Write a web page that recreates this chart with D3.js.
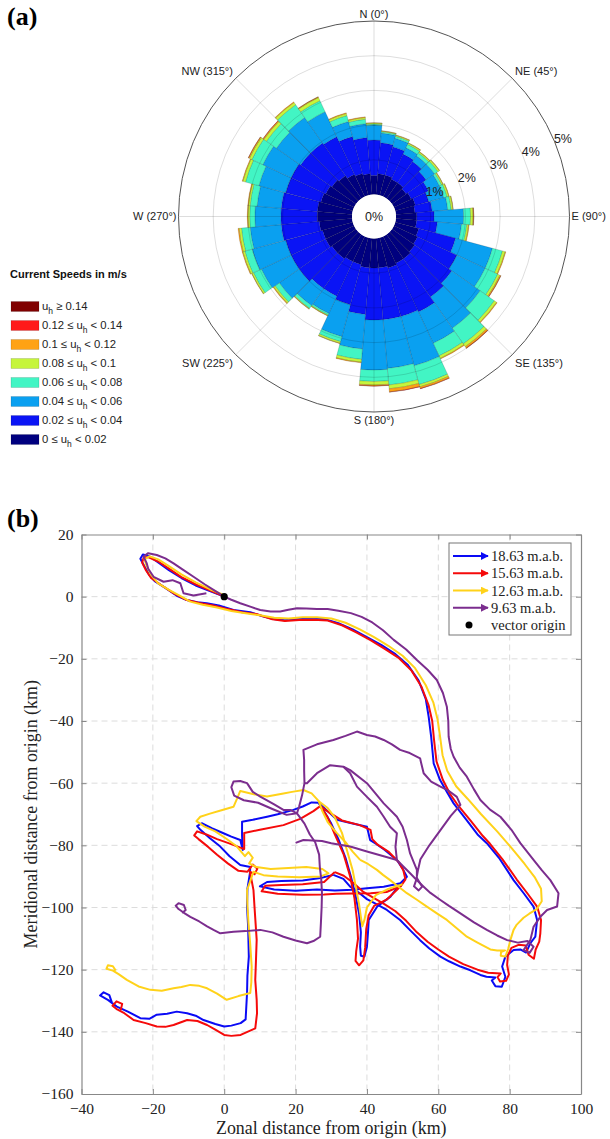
<!DOCTYPE html>
<html>
<head>
<meta charset="utf-8">
<script src="https://cdn.jsdelivr.net/npm/d3@7"></script>
<style>
  body { margin: 0; background: #fff; }
  svg { display: block; }
  .sans { font-family: "Liberation Sans", Arial, Helvetica, sans-serif; }
  .serif { font-family: "Liberation Serif", "Times New Roman", serif; }
</style>
</head>
<body>
<div id="chart"></div>
<script>
// ---------- panel (a): current rose ----------
const directions = d3.range(0, 360, 10);   // bin centres, degrees from N

// frequency (%) per direction bin, one array per speed class (low -> high)
const spd0 = [0.55,0.6,0.6,0.55,0.55,0.5,0.55,0.6,0.55,0.6,0.6,0.7,0.75,0.8,0.85,0.85,0.9,0.85,0.85,0.85,0.8,0.8,0.85,0.85,0.9,0.9,0.95,1.0,1.0,0.95,0.9,0.85,0.8,0.7,0.65,0.6];
const spd1 = [1.02,0.9,0.85,0.8,0.75,0.7,0.55,0.4,0.5,0.5,0.6,1.1,1.25,1.3,1.35,1.55,1.45,1.5,1.5,1.35,1.2,1.1,1.05,1.15,1.1,1.1,1.1,1.05,1.05,1.05,1.1,1.1,1.15,1.2,1.1,1.05];
const spd2 = [0.43,0.28,0.25,0.2,0.2,0.3,0.35,0.45,0.45,0.85,0.7,1.1,0.9,1.0,1.1,1.0,1.47,1.41,1.44,1.0,0.95,0.55,0.6,0.7,0.95,1.0,0.9,0.75,0.7,0.8,0.9,0.85,0.9,0.8,0.45,0.4];
const spd3 = [0.03,0.04,0.06,0.11,0.1,0.12,0.07,0.1,0.1,0.2,0.15,0.3,0.4,0.5,0.55,0.4,0.56,0.48,0.33,0.3,0.15,0.05,0.1,0.15,0.25,0.22,0.25,0.15,0.2,0.4,0.35,0.35,0.45,0.35,0.18,0.13];
const spd4 = [0.03,0.02,0.03,0.04,0.04,0.05,0.04,0.05,0.05,0.07,0.05,0.08,0.07,0.08,0.1,0.08,0.07,0.11,0.1,0.08,0.05,0.02,0.02,0.05,0.05,0.06,0.07,0.05,0.05,0.08,0.08,0.09,0.08,0.1,0.06,0.05];
const spd5 = [0.01,0.01,0.01,0.01,0.01,0.01,0.01,0.01,0.01,0.02,0.02,0.02,0.03,0.02,0.05,0.02,0.05,0.09,0.03,0.02,0.01,0.01,0.01,0.02,0.01,0.02,0.03,0.02,0.02,0.02,0.03,0.03,0.02,0.02,0.02,0.02];
const spd6 = [0,0,0,0,0,0,0,0,0,0.005,0,0,0.005,0,0.01,0,0.01,0.01,0.005,0,0,0,0,0,0,0,0,0,0,0,0.005,0.005,0,0.005,0,0];
const spd7 = [0,0,0,0,0,0,0,0,0,0,0,0,0,0,0,0,0,0,0,0,0,0,0,0,0,0,0,0,0,0,0,0,0,0,0,0];
const speedClasses = [spd0, spd1, spd2, spd3, spd4, spd5, spd6, spd7];
const speedColors = ["#00007f", "#0a14f5", "#0aa0f0", "#42f5c4", "#c6f53a", "#ffa214", "#ff1a1a", "#800000"];
const speedLabels = [
  ["0 ≤ u", " < 0.02"], ["0.02 ≤ u", " < 0.04"], ["0.04 ≤ u", " < 0.06"], ["0.06 ≤ u", " < 0.08"],
  ["0.08 ≤ u", " < 0.1"], ["0.1 ≤ u", " < 0.12"], ["0.12 ≤ u", " < 0.14"], ["u", " ≥ 0.14"]
];
const ringTicks = [1, 2, 3, 4, 5];
const compassLabels = [
  [0, "N (0°)"], [45, "NE (45°)"], [90, "E (90°)"], [135, "SE (135°)"],
  [180, "S (180°)"], [225, "SW (225°)"], [270, "W (270°)"], [315, "NW (315°)"]
];

// ---------- panel (b): progressive vector diagram (km) ----------
const xTicks = d3.range(-40, 101, 20);
const yTicks = d3.range(-160, 21, 20);
const seriesNames = ["18.63 m.a.b.", "15.63 m.a.b.", "12.63 m.a.b.", "9.63 m.a.b."];
const seriesColors = ["#0a0af5", "#f50a0a", "#ffd21a", "#7b2d8e"];

const blue = [
  [[0,0],[-4,1.8],[-8,3.6],[-12,6],[-15.5,8.5],[-18.5,11],[-21,13],[-22.8,13.6],[-23.5,12.2],[-22.5,10],[-21,7],[-19.5,5],[-16.5,2.8],[-13.3,0.3],[-10.5,-1.1],[-7.5,-1.8],[-4.9,-2.1],[-1.5,-2.8],[2.6,-4.3],[7.3,-5],[10.5,-6.2],[13.8,-7.2],[17,-7.6],[20,-7.3],[24,-7],[28,-7.2],[32,-8.5],[36,-10.5],[40,-13],[44,-15.5],[48,-18.5],[51.5,-22],[54.5,-27],[56.5,-33],[57.3,-38.6],[58,-45],[58.7,-53.6],[60.5,-59],[62.5,-63],[64.3,-66.5],[68,-72],[71,-76.5],[73.6,-79.3],[77,-84],[81.1,-91.2],[84,-95.5],[86.7,-99.7],[87.7,-104],[87.2,-109.4],[85.8,-111.5],[84.6,-114.5],[83,-113.5],[81.1,-113.7],[78.8,-115.8],[77.9,-119],[78.8,-122.3],[77.8,-125.5],[76,-125.3],[75,-123.5],[76,-122.5],[73.5,-122.3],[71.8,-121.7],[69,-120.2],[66.2,-119],[63,-117.3],[60.6,-115.8],[57.5,-113.2],[54.9,-110.5],[52,-107.2],[49.3,-104],[45.6,-100.8],[42,-98.5],[40,-97.3],[37.5,-95],[35.3,-93.3],[33.4,-90.8],[30.6,-89.5]],
  [[30.6,-89.5],[27,-90.5],[22,-91.3],[16,-91.5],[12,-91.8],[10,-93.2],[14,-94.2],[20,-94.6],[26,-94.2],[31,-94.5],[36,-94.3],[40,-93.8],[44.7,-93.3],[49.4,-92.2],[51.2,-90.1],[50,-87.5],[48.4,-84.7],[45,-81.5],[42.5,-79.5],[40.9,-78.3],[40,-74],[36,-73],[31.6,-71.8],[29,-69],[26.4,-66.3],[24.5,-66.2],[22,-67.5],[19.4,-68.6],[15,-70],[12,-70.8],[8,-71.8],[5,-72.4],[5,-77],[5.2,-81.5],[4.5,-78.3],[2,-77.2],[-0.2,-76.1],[-3.5,-74.5],[-6.3,-72.9],[-7.6,-73.8],[-6.6,-75.1],[-4,-77.7],[-1.1,-80.4],[1.5,-83.5],[4.5,-86.3],[7.3,-87],[7.2,-89],[6.5,-94],[6.4,-99.8],[6.7,-106],[6.9,-115.8],[6.5,-122],[6.4,-127.5],[6,-136],[4.6,-137.2],[2,-138],[0,-138.3],[-2.5,-137.5],[-5.8,-136.2],[-8,-134.8],[-10.4,-134],[-13.3,-133.5],[-16,-134.2],[-18.9,-134.5],[-21,-135.8],[-23.5,-135.6],[-27,-133.5],[-30.1,-131.9],[-32.5,-129.8],[-34.8,-128.3],[-33.8,-127.3],[-32.2,-128.2],[-31.5,-130.5]],
  [[26.4,-66.3],[28,-69],[30,-73],[32,-78],[34,-84],[35.5,-90],[36.8,-96],[37.8,-102],[38.3,-108],[38.1,-112.6],[38.3,-115.5],[39.3,-115.8],[40,-112.6],[40.3,-108],[40.5,-104],[42.9,-99.7],[46.6,-96.5],[49.4,-92.2]]
];
const red = [
  [[0,0],[-4,2],[-8,4],[-12,6.3],[-15.5,9],[-18.5,11.3],[-21,12.6],[-22.5,12.8],[-23,11],[-22,8.6],[-20.5,6],[-17.5,3.6],[-14,1],[-10.5,-1.1],[-7,-2],[-3,-2.8],[1,-4],[5,-5],[9,-5.6],[13.5,-7.3],[17,-7.8],[21,-7.5],[25,-7.4],[29,-7.7],[33,-9.2],[37,-11.5],[41,-14],[45,-16.8],[49,-19.8],[52.5,-23.8],[55.3,-29],[57.3,-35],[58.3,-40],[58.8,-46],[59.5,-53],[61.3,-59],[63.3,-63.5],[65.3,-66.8],[69,-72],[72.5,-77],[74.5,-79.5],[78,-84.5],[82,-91],[85,-95.5],[87.7,-99.7],[88.8,-104],[88.6,-108.3],[88.3,-111],[87.3,-113.5],[86.8,-116.5],[85.3,-115.2],[84.5,-112.2],[82.5,-112],[80.5,-113],[79.5,-115.5],[79.3,-118.5],[79.8,-121.5],[79,-123.6],[77.3,-123.8],[76.6,-122.4],[77.5,-121.2],[74,-121],[71,-120],[67,-118.2],[63,-115.8],[60,-113.5],[57,-111],[54,-108],[51,-104.3],[48,-101.2],[45,-99],[42,-97],[39,-95],[36.3,-92.2],[33.5,-89.8],[31,-88.6]],
  [[31,-88.6],[28,-91.8],[22,-92.5],[16,-92.8],[11.5,-93],[10.5,-94.8],[15,-95.6],[22,-95.9],[28,-95.8],[31.5,-95.6],[36,-95.5],[41,-95.4],[45.5,-95],[49.6,-93],[50.8,-91],[50.2,-88],[49,-85.5],[46,-82],[43,-79.8],[41.5,-78],[41,-75],[38,-73.5],[33,-72],[29.5,-69.5],[26.9,-67.4],[25,-69],[21.3,-71.5],[16.6,-73.5],[10,-75],[5.6,-76],[5.6,-81.2],[4,-80.5],[1,-79.2],[-2,-78],[-5,-76.5],[-7.6,-75.5],[-8.4,-76.8],[-7.2,-78],[-4.5,-80.5],[-2,-83],[1,-85.8],[4,-88.2],[6.5,-88.5],[8,-86.2],[9.3,-87.5],[8.5,-89.3],[7.2,-88.5],[7.8,-92],[8.2,-94.4],[8.5,-100],[9.1,-110.4],[8.9,-117],[8.7,-123.3],[9.1,-129.7],[9.2,-134],[8.7,-138.9],[6.5,-140],[4.6,-141],[2,-141.3],[0,-141],[-2.5,-139.3],[-4.8,-137.8],[-7.5,-136.5],[-10.4,-136.2],[-14.2,-137.8],[-16.5,-138.4],[-18.9,-138.3],[-22,-137.2],[-25.4,-136.2],[-28,-134],[-30,-132.8],[-31.3,-131.6],[-30.2,-130.2],[-28.6,-131],[-29,-133]],
  [[26.9,-67.4],[29,-71],[31,-76.5],[33.5,-83],[35.3,-90],[36.5,-97],[37.2,-104],[37.5,-110],[37,-114],[36.8,-117.2],[37.8,-118.6],[39,-117],[39.5,-113],[39.8,-107],[40.5,-102.5],[42,-99.5],[45.5,-97.5],[49.6,-93]]
];
const yellow = [
  [[0,0.5],[-4,2.4],[-8,4.6],[-12,7.2],[-15.5,9.8],[-18.5,12],[-21,13],[-22.3,12],[-21.8,10],[-20.5,7],[-18.5,4.3],[-15.5,2.2],[-12.5,0.3],[-9.5,-1.6],[-6,-2.6],[-2,-3.5],[2,-4.6],[6,-5.3],[10,-6],[14,-6.8],[18,-7],[22,-6.6],[26,-6.6],[30,-7],[34,-8.4],[38,-10.5],[42,-13],[46,-15.8],[50,-19],[53.5,-23],[56.5,-28.5],[58.6,-34],[59.8,-39.5],[60.5,-45],[61.2,-51],[62.5,-56],[65,-61],[68.2,-65],[72,-70],[76.5,-75.5],[80.5,-80.8],[84.2,-86],[87,-90.2],[88.8,-94],[89,-98],[87.6,-100.5],[85.5,-102],[83.9,-103.3],[82,-105.5],[81.1,-107.2],[80.2,-110.5],[79.6,-113.3],[78.8,-115.8],[77.5,-115.5],[77.6,-114.3],[78.7,-113.8],[76.5,-113.8],[74.6,-113.5],[71,-111.3],[68,-109.4],[65,-106.5],[62.4,-104],[59.5,-101.8],[56.8,-99.7],[54,-97.5],[51.2,-95.4],[48.5,-93],[46.5,-91.2],[44.5,-89.5],[42.8,-87.9],[40.3,-86],[38.1,-84.7]],
  [[38.1,-84.7],[36,-82],[34,-79],[31.5,-76],[29,-72.5],[27.5,-69],[26.5,-65.8],[24.5,-63.3],[22.2,-62.2],[19,-62.8],[16.6,-63.3],[12,-64.3],[8,-63.5],[4.5,-62.5],[3.6,-65],[2.6,-67.6],[-1,-68.8],[-4,-69.8],[-6.7,-70.8],[-7.8,-72.2],[-5.5,-74],[-2.5,-75.5],[0.5,-77.8],[3.5,-80.3],[5.8,-83.5],[6.8,-82.2],[8,-84],[7,-85.8],[9,-87],[13,-87.6],[18,-87.3],[23,-87],[27.5,-87.6],[29.2,-89],[27,-90],[21,-90.3],[15,-90],[11,-89.6],[8.2,-88.5],[6.4,-94.4],[6.5,-99],[6.8,-105],[7.3,-112],[7.7,-119],[7.6,-124],[7.3,-127.5],[4,-128.5],[0.7,-129.7],[-2,-127.7],[-4.8,-126],[-7,-125.2],[-9.5,-124.9],[-12,-125.6],[-14.2,-126],[-17.5,-126.8],[-20.7,-126.5],[-24,-125.4],[-27.3,-123.3],[-29.5,-121.5],[-31.2,-120.3],[-33,-119.7],[-32.6,-118.6],[-31.2,-118.9],[-30.4,-120.3]],
  [[26.5,-65.8],[29,-68],[31,-71],[33,-76],[34.5,-82],[36,-88],[37,-94],[37.8,-99],[38.3,-103],[38.7,-106],[39.3,-104],[40,-100],[42.5,-96],[46,-94],[50,-92.5]]
];
const purple = [
  [[-5,1.1],[-8.6,0.4],[-11.4,1.1],[-12.3,4.3],[-14.5,5.3],[-17,4.8],[-19.8,6.4],[-21.3,9],[-21.7,10.7],[-22.6,12.9],[-21.3,14],[-18.9,13.4],[-16.5,12.3],[-14.2,10.7],[-11.5,8.6],[-8.6,6.4],[-5.5,4],[-3,2.2],[0,0],[2,-1],[4.5,-2.1],[7.5,-3.3],[10.1,-4.3],[13,-4.8],[15.7,-4.8],[18,-4.2],[20.4,-3.7],[23,-3.8],[26,-4],[29,-4],[32,-4.5],[35.5,-5.3],[38.5,-6.5],[41.5,-8.3],[44.5,-10.8],[47.5,-13.9],[51,-17],[54,-20.4],[57,-23.5],[59.6,-26.8],[61.3,-31],[62.4,-35.4],[62.8,-40],[62.9,-45],[63.5,-49],[64.3,-51.5],[66,-55],[68,-57.9],[70,-62],[71.8,-65.4],[74.5,-68.5],[77.4,-70.8],[80.5,-75],[83,-79.3],[86.7,-84.7],[89,-88],[91.4,-91.2],[93.7,-95.4],[93.3,-99.7],[90.5,-100.8],[88.6,-103],[86.7,-106.2],[85.8,-110.5],[84.8,-112.2],[83.9,-113.7],[85.6,-114.6],[86.7,-112.6],[85,-110.8],[82.3,-111.3],[79.3,-110.5],[76.5,-109],[73.6,-107.2],[70,-104.8],[66.2,-101.9],[63,-99.5],[60.6,-97.6],[57.8,-95.3],[55.9,-93.3],[53.8,-91],[52.1,-89],[50.2,-86.8],[48.4,-84.7],[44.7,-83.5],[40,-82],[35.3,-80.4],[30,-79.3],[27.4,-78.6],[22.2,-78.3],[20,-79.2]],
  [[48.4,-84.7],[48,-80.5],[48.4,-76.1],[46.5,-74],[44.7,-70.8],[42.8,-67.6],[40,-64.4],[37.2,-61.1],[35.3,-56.8],[33.4,-54.7],[29.7,-54.2],[26,-56.8],[23.2,-60],[22.5,-60]],
  [[33.4,-54.7],[35.3,-55.8],[40,-60],[44.7,-66.5],[48.4,-70.8],[50,-74],[51.2,-78.3],[52.1,-82.6],[54,-87.9],[54,-90.5],[55.5,-93.3],[54.5,-94.5],[53.2,-93.2],[53.8,-91.2],[54.3,-88],[55,-84.5],[57.5,-80],[60.6,-75.1],[63.5,-70.5],[66.2,-67],[65.2,-64.4],[63,-62.5],[60.6,-61.1],[58,-59.5],[55.9,-56.8],[55.2,-53.5],[54.9,-52],[52,-50.3],[49.3,-49.3],[47,-47.5],[44.7,-46.1],[42.3,-45],[40,-44.5],[37.2,-43.4],[34,-44.8],[30.6,-46.1],[26,-47.5],[22.2,-49.3],[22.4,-52.5],[22.4,-56],[22.5,-60],[21.8,-64],[21,-67.5],[20.4,-69.7],[18.5,-68.6],[16.6,-68.6],[14,-66.8],[12,-65.5],[10.1,-64.3],[8,-62.8],[6.4,-60],[4.5,-59.3],[2.6,-59.5],[2,-61.3],[2.8,-64],[5.5,-65.5],[9.5,-66.3],[13.5,-68.3],[17.5,-70.2],[20.4,-69.7]],
  [[20.4,-69.7],[22.5,-73],[24,-76.5],[25.5,-79],[26.6,-83],[26.8,-87],[27.2,-91],[27.4,-95.4],[27.3,-100],[27.1,-105],[26.9,-109.4],[25,-110.8],[23.2,-111.5],[20,-110.6],[16.6,-109.4],[13.5,-108],[10.1,-107.2],[6,-107.6],[2.6,-107.8],[-1.1,-108.3],[-3,-107.2],[-4.8,-106.1],[-7,-104.5],[-9.5,-103],[-11.3,-101.7],[-12.8,-100.5],[-13.6,-99.4],[-12.8,-98.6],[-11.3,-99.2],[-10.8,-100.8],[-11.8,-101.8]]
];
const allSeries = [blue, red, yellow, purple];

// ---------- drawing ----------
const W = 610, H = 1139;
const svg = d3.select("#chart").append("svg").attr("width", W).attr("height", H);

// panel letters
svg.append("text").attr("class", "serif").attr("x", 7).attr("y", 25)
  .attr("font-size", 26).attr("font-weight", "bold").text("(a)");
svg.append("text").attr("class", "serif").attr("x", 7).attr("y", 527)
  .attr("font-size", 26).attr("font-weight", "bold").text("(b)");

// rose
const rose = { cx: 374, cy: 216.5 };
const r = d3.scaleLinear().domain([0, 5]).range([22, 195.5]);
const rad = deg => deg * Math.PI / 180;
const gA = svg.append("g").attr("transform", `translate(${rose.cx},${rose.cy})`);

const wedges = [];
directions.forEach((dir, i) => {
  let cum = 0;
  speedClasses.forEach((cls, c) => {
    const v = cls[i];
    if (v > 0) wedges.push({ dir, c, inner: cum, outer: cum + v });
    cum += v;
  });
});
const arc = d3.arc()
  .innerRadius(d => r(d.inner)).outerRadius(d => r(d.outer))
  .startAngle(d => rad(d.dir - 5)).endAngle(d => rad(d.dir + 5));
gA.selectAll(".wedge").data(wedges).join("path")
  .attr("class", "wedge").attr("d", arc)
  .attr("fill", d => speedColors[d.c])
  .attr("stroke", "rgba(0,0,0,0.3)").attr("stroke-width", 0.5);

// grid on top
gA.selectAll(".ring").data(ringTicks).join("circle")
  .attr("class", "ring").attr("r", d => r(d)).attr("fill", "none")
  .attr("stroke", d => d === 5 ? "#555" : "rgba(0,0,0,0.17)")
  .attr("stroke-width", d => d === 5 ? 1 : 0.8);
gA.selectAll(".spoke").data(compassLabels).join("line")
  .attr("class", "spoke")
  .attr("x1", d => r(0) * Math.sin(rad(d[0]))).attr("y1", d => -r(0) * Math.cos(rad(d[0])))
  .attr("x2", d => r(5) * Math.sin(rad(d[0]))).attr("y2", d => -r(5) * Math.cos(rad(d[0])))
  .attr("stroke", "rgba(0,0,0,0.17)").attr("stroke-width", 0.8);
gA.append("circle").attr("r", r(0)).attr("fill", "#fff");
gA.append("text").attr("class", "sans").attr("text-anchor", "middle").attr("dy", "0.35em")
  .attr("font-size", 12.5).attr("fill", "#222").text("0%");

const labAng = rad(67.5);
gA.selectAll(".rlab").data(ringTicks).join("text")
  .attr("class", "rlab sans")
  .attr("x", d => (r(d) + 9) * Math.sin(labAng))
  .attr("y", d => -(r(d) + 9) * Math.cos(labAng))
  .attr("text-anchor", "middle").attr("dy", "0.35em")
  .attr("font-size", 12.5).attr("fill", "#222").text(d => d + "%");

const R = r(5);
gA.selectAll(".clab").data(compassLabels).join("text")
  .attr("class", "clab sans").attr("font-size", 11).attr("fill", "#222")
  .each(function (d) {
    const a = d[0], t = d3.select(this);
    const s = Math.sin(rad(a)), c = Math.cos(rad(a));
    let x = (R + 4) * s, y = -(R + 4) * c, anchor = "middle", dy = "0.35em";
    if (a === 0) { y = -R - 3; dy = "0"; }
    if (a === 180) { y = R + 3; dy = "0.85em"; }
    if (a === 90) { x = R + 2; anchor = "start"; }
    if (a === 270) { x = -R - 2; anchor = "end"; }
    if (a === 45 || a === 315) { dy = "0"; anchor = a === 45 ? "start" : "end"; }
    if (a === 135 || a === 225) { dy = "0.85em"; anchor = a === 135 ? "start" : "end"; }
    t.attr("x", x).attr("y", y).attr("dy", dy).attr("text-anchor", anchor).text(d[1]);
  });

// rose legend
const legA = svg.append("g").attr("class", "sans");
legA.append("text").attr("x", 10).attr("y", 278).attr("font-size", 11)
  .attr("font-weight", "bold").attr("fill", "#111").text("Current Speeds in m/s");
const legRows = d3.range(7, -1, -1);
const legY = d3.scalePoint().domain(legRows).range([306.5, 439.5]);
legRows.forEach(c => {
  const g = legA.append("g").attr("transform", `translate(0,${legY(c)})`);
  g.append("rect").attr("x", 11).attr("y", -5).attr("width", 28).attr("height", 10)
    .attr("fill", speedColors[c]).attr("stroke", "rgba(0,0,0,0.25)").attr("stroke-width", 0.5);
  const t = g.append("text").attr("x", 42).attr("dy", "0.3em").attr("font-size", 11.3).attr("fill", "#222");
  t.append("tspan").text(speedLabels[c][0]);
  t.append("tspan").attr("font-size", 8.5).attr("dy", 4).text("h");
  t.append("tspan").attr("dy", -4).text(speedLabels[c][1]);
});

// trajectories
const m = { left: 81.5, right: 581, top: 534.5, bottom: 1094 };
const x = d3.scaleLinear().domain([-40, 100]).range([m.left, m.right]);
const y = d3.scaleLinear().domain([-160, 20]).range([m.bottom, m.top]);
const gB = svg.append("g");

gB.append("g").selectAll("line").data(xTicks.slice(1, -1)).join("line")
  .attr("x1", d => x(d)).attr("x2", d => x(d)).attr("y1", m.top).attr("y2", m.bottom)
  .attr("stroke", "#dcdcdc").attr("stroke-dasharray", "6,4");
gB.append("g").selectAll("line").data(yTicks.slice(1, -1)).join("line")
  .attr("y1", d => y(d)).attr("y2", d => y(d)).attr("x1", m.left).attr("x2", m.right)
  .attr("stroke", "#dcdcdc").attr("stroke-dasharray", "6,4");

gB.append("clipPath").attr("id", "plotclip").append("rect")
  .attr("x", m.left).attr("y", m.top).attr("width", m.right - m.left).attr("height", m.bottom - m.top);
const line = d3.line().x(d => x(d[0])).y(d => y(d[1]));
const gLines = gB.append("g").attr("clip-path", "url(#plotclip)");
allSeries.forEach((segs, i) => {
  gLines.append("g").selectAll("path").data(segs).join("path")
    .attr("d", line).attr("fill", "none").attr("stroke", seriesColors[i])
    .attr("stroke-width", 2).attr("stroke-linejoin", "round");
});
gLines.append("circle").attr("cx", x(0)).attr("cy", y(0)).attr("r", 3.6).attr("fill", "#000");

// axes
const axisStyle = g => {
  g.select(".domain").attr("stroke", "#888").attr("stroke-width", 1.2);
  g.selectAll(".tick line").attr("stroke", "#888");
  g.selectAll(".tick text").attr("class", "serif").attr("font-size", 15.5).attr("fill", "#222");
};
gB.append("g").attr("transform", `translate(0,${m.bottom})`)
  .call(d3.axisBottom(x).tickValues(xTicks).tickSizeInner(-5).tickSizeOuter(0).tickPadding(9))
  .call(axisStyle);
gB.append("g").attr("transform", `translate(${m.left},0)`)
  .call(d3.axisLeft(y).tickValues(yTicks).tickSizeInner(-5).tickSizeOuter(0).tickPadding(8))
  .call(axisStyle);
gB.append("g").attr("transform", `translate(0,${m.top})`)
  .call(d3.axisTop(x).tickValues(xTicks).tickSizeInner(-5).tickSizeOuter(0).tickFormat(""))
  .call(axisStyle);
gB.append("g").attr("transform", `translate(${m.right},0)`)
  .call(d3.axisRight(y).tickValues(yTicks).tickSizeInner(-5).tickSizeOuter(0).tickFormat(""))
  .call(axisStyle);

gB.append("text").attr("class", "serif").attr("x", (m.left + m.right) / 2).attr("y", 1134)
  .attr("text-anchor", "middle").attr("font-size", 17.9).attr("fill", "#222")
  .text("Zonal distance from origin (km)");
gB.append("text").attr("class", "serif")
  .attr("transform", `translate(37,${(m.top + m.bottom) / 2}) rotate(-90)`)
  .attr("text-anchor", "middle").attr("font-size", 17.9).attr("fill", "#222")
  .text("Meridional distance from origin (km)");

// trajectory legend
const defs = svg.append("defs");
seriesColors.forEach((col, i) => {
  defs.append("marker").attr("id", "arr" + i).attr("viewBox", "0 0 10 10")
    .attr("refX", 9).attr("refY", 5).attr("markerWidth", 4).attr("markerHeight", 4)
    .attr("markerUnits", "strokeWidth").attr("orient", "auto")
    .append("path").attr("d", "M0,0L10,5L0,10z").attr("fill", col);
});
const legB = svg.append("g");
legB.append("rect").attr("x", 449).attr("y", 543).attr("width", 122).attr("height", 92)
  .attr("fill", "#fff").attr("stroke", "#777").attr("stroke-width", 1);
const rowY = d3.scalePoint().domain(d3.range(5)).range([556, 625]);
seriesNames.forEach((name, i) => {
  legB.append("line").attr("x1", 453).attr("x2", 488).attr("y1", rowY(i)).attr("y2", rowY(i))
    .attr("stroke", seriesColors[i]).attr("stroke-width", 2).attr("marker-end", `url(#arr${i})`);
  legB.append("text").attr("class", "serif").attr("x", 491).attr("y", rowY(i)).attr("dy", "0.35em")
    .attr("font-size", 14.5).attr("fill", "#222").text(name);
});
legB.append("circle").attr("cx", 469).attr("cy", rowY(4)).attr("r", 3.5).attr("fill", "#000");
legB.append("text").attr("class", "serif").attr("x", 491).attr("y", rowY(4)).attr("dy", "0.35em")
  .attr("font-size", 14.5).attr("fill", "#222").text("vector origin");
</script>
</body>
</html>
